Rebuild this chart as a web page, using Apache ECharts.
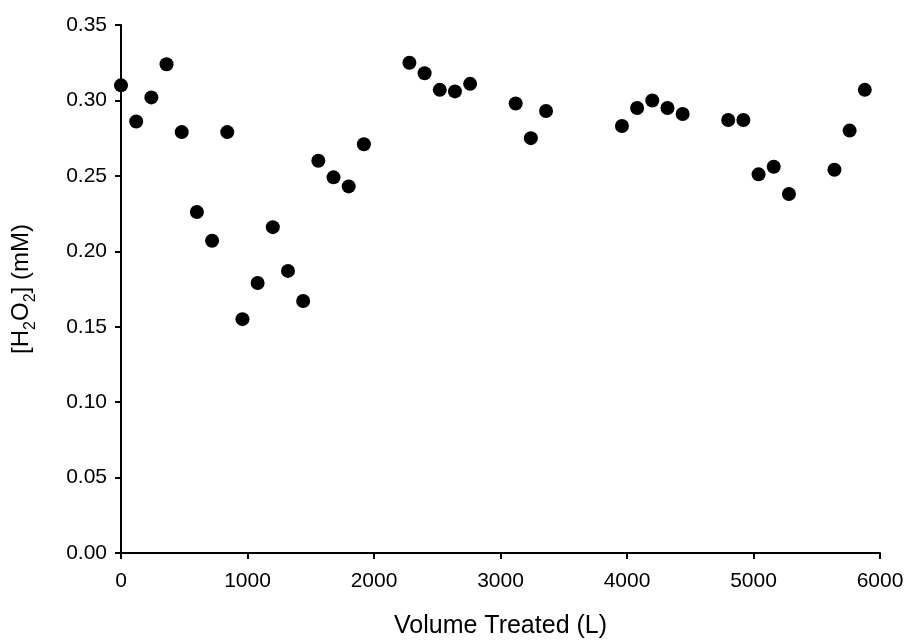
<!DOCTYPE html>
<html>
<head>
<meta charset="utf-8">
<script src="https://cdn.jsdelivr.net/npm/echarts@6/dist/echarts.min.js"></script>
<style>html,body{margin:0;padding:0;background:#fff;}#c{width:905px;height:641px;}</style>
</head>
<body>
<div id="c"></div>
<script>
var volumeTreated = [0, 120, 240, 360, 480, 600, 720, 840, 960, 1080, 1200, 1320, 1440, 1560, 1680, 1800, 1920,
  2280, 2400, 2520, 2640, 2760, 3120, 3240, 3360, 3960, 4080, 4200, 4320, 4440, 4800, 4920, 5040, 5160, 5280, 5640, 5760, 5880];
var h2o2 = [0.310, 0.286, 0.302, 0.324, 0.279, 0.226, 0.207, 0.279, 0.155, 0.179, 0.216, 0.187, 0.167, 0.260, 0.249, 0.243, 0.271,
  0.325, 0.318, 0.307, 0.306, 0.311, 0.298, 0.275, 0.293, 0.283, 0.295, 0.300, 0.295, 0.291, 0.287, 0.287, 0.251, 0.256, 0.238, 0.254, 0.280, 0.307];
var xTicks = [0, 1000, 2000, 3000, 4000, 5000, 6000];
var yTicks = [0, 0.05, 0.10, 0.15, 0.20, 0.25, 0.30, 0.35];

var points = volumeTreated.map(function (v, i) { return [v, h2o2[i]]; });
var font = '"Liberation Sans", Arial, sans-serif';
var chart = echarts.init(document.getElementById('c'), null, {renderer: 'canvas'});
chart.setOption({
  animation: false,
  backgroundColor: '#ffffff',
  grid: {left: 121, right: 25, top: 25, bottom: 88, containLabel: false, outerBoundsMode: 'none'},
  xAxis: {
    type: 'value',
    min: xTicks[0], max: xTicks[xTicks.length - 1], interval: 1000,
    name: 'Volume Treated (L)', nameLocation: 'middle', nameGap: 61,
    nameTextStyle: {fontFamily: font, fontSize: 25, color: '#000'},
    axisLine: {show: true, onZero: false, lineStyle: {color: '#000', width: 2}},
    axisTick: {show: true, inside: false, length: 6, lineStyle: {color: '#000', width: 2}},
    axisLabel: {fontFamily: font, fontSize: 21, color: '#000', margin: 18,
      formatter: function (v) { return String(v); }},
    splitLine: {show: false}
  },
  yAxis: {
    type: 'value',
    min: yTicks[0], max: yTicks[yTicks.length - 1], interval: 0.05,
    name: '{n|[H}{sub|2}{n|O}{sub|2}{n|] (mM)}', nameLocation: 'middle', nameGap: 82, nameRotate: 90,
    nameTextStyle: {
      fontFamily: font, fontSize: 24, color: '#000',
      rich: {
        n: {fontFamily: font, fontSize: 24, color: '#000', lineHeight: 36, verticalAlign: 'middle'},
        sub: {fontFamily: font, fontSize: 16, color: '#000', lineHeight: 36, verticalAlign: 'bottom'}
      }
    },
    axisLine: {show: true, onZero: false, lineStyle: {color: '#000', width: 2}},
    axisTick: {show: true, inside: false, length: 6, lineStyle: {color: '#000', width: 2}},
    axisLabel: {fontFamily: font, fontSize: 21, color: '#000', margin: 14,
      formatter: function (v) { return v.toFixed(2); }},
    splitLine: {show: false}
  },
  series: [{
    type: 'scatter',
    data: points,
    symbol: 'circle',
    symbolSize: 14,
    itemStyle: {color: '#000', opacity: 1}
  }]
});
</script>
</body>
</html>
